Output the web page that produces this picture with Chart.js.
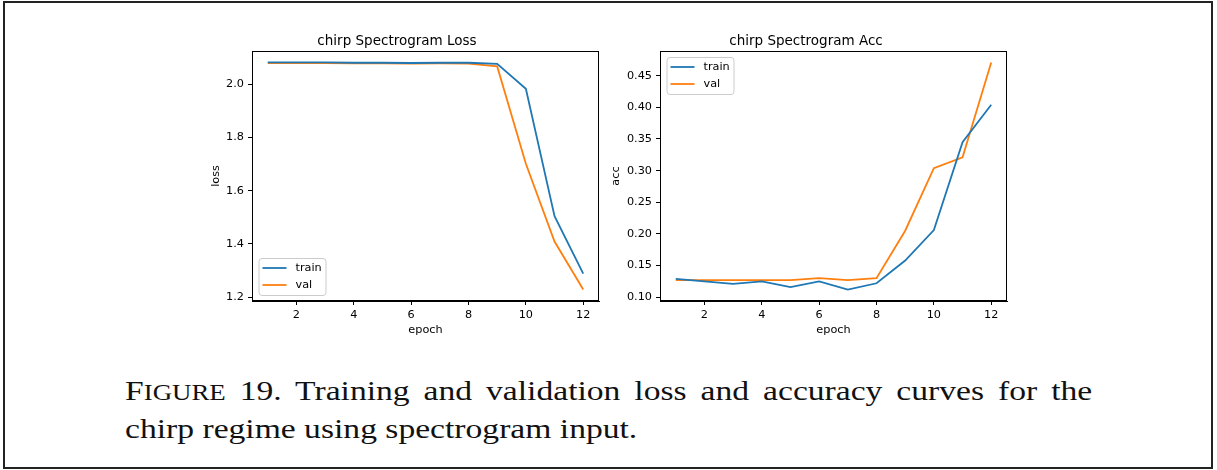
<!DOCTYPE html>
<html>
<head>
<meta charset="utf-8">
<script src="https://cdn.jsdelivr.net/npm/chart.js@4.4.0/dist/chart.umd.min.js"></script>
<style>
  html, body { margin: 0; padding: 0; background: #fff; width: 1217px; height: 470px; overflow: hidden; }
  #frame { position: absolute; left: 3px; top: 1px; width: 1206px; height: 464px; border: 2px solid #222; }
  .plot { position: absolute; top: 22px; width: 420px; height: 325px; }
  #lossBox { left: 195px; }
  #accBox { left: 605px; }
  #caption { position: absolute; left: 125px; top: 373px; width: 806px;
             font-family: "Liberation Serif", serif; font-size: 28px; line-height: 36px; color: #111;
             transform: scaleX(1.2); transform-origin: 0 0; }
  #caption .l1 { display: block; text-align: justify; text-align-last: justify; }
  #caption .l2 { display: block; white-space: nowrap; }
  .sc { font-size: 0.8em; text-transform: uppercase; }
</style>
</head>
<body>
<div id="frame"></div>
<div class="plot" id="lossBox"><canvas id="loss" width="420" height="325"></canvas></div>
<div class="plot" id="accBox"><canvas id="acc" width="420" height="325"></canvas></div>
<div id="caption">
  <span class="l1">F<span class="sc">igure</span> 19. Training and validation loss and accuracy curves for the</span>
  <span class="l2">chirp regime using spectrogram input.</span>
</div>
<script>
// Training history: one value per epoch
const epochs = [1, 2, 3, 4, 5, 6, 7, 8, 9, 10, 11, 12];
const lossTrain = [2.081, 2.081, 2.081, 2.080, 2.080, 2.079, 2.080, 2.080, 2.076, 1.982, 1.504, 1.289];
const lossVal   = [2.079, 2.079, 2.079, 2.078, 2.078, 2.077, 2.078, 2.077, 2.066, 1.701, 1.409, 1.229];
const accTrain  = [0.129, 0.125, 0.121, 0.125, 0.116, 0.125, 0.112, 0.122, 0.158, 0.206, 0.345, 0.404];
const accVal    = [0.127, 0.127, 0.127, 0.127, 0.127, 0.130, 0.127, 0.130, 0.205, 0.304, 0.321, 0.471];

// Tick positions
const epochTicks = [2, 4, 6, 8, 10, 12];
const lossTicks = [1.2, 1.4, 1.6, 1.8, 2.0];
const accTicks = [0.10, 0.15, 0.20, 0.25, 0.30, 0.35, 0.40, 0.45];

const BLUE = '#1f77b4';
const ORANGE = '#ff7f0e';
const FONT = 'DejaVu Sans';
Chart.defaults.font.family = FONT;
Chart.defaults.color = '#000';

function pts(ys) { return ys.map((y, i) => ({ x: epochs[i], y })); }

// Axes frame drawn on all four sides
const framePlugin = {
  id: 'axesFrame',
  afterDatasetsDraw(chart) {
    const { ctx, chartArea: a } = chart;
    ctx.save();
    ctx.strokeStyle = '#000';
    ctx.lineWidth = 1;
    ctx.strokeRect(Math.round(a.left) + 0.5, Math.round(a.top) + 0.5,
                   Math.round(a.right - a.left) - 1, Math.round(a.bottom - a.top) - 1);
    ctx.restore();
  }
};

// Boxed legend placed inside the plot area
function makeLegend(where) {
  return {
    id: 'boxLegend',
    afterDraw(chart) {
      const { ctx, chartArea: a } = chart;
      const w = 67, h = 37;
      const x = a.left + 6.5;
      const y = where === 'lower left' ? a.bottom - 6 - h : a.top + 6;
      ctx.save();
      ctx.beginPath();
      ctx.roundRect(x + 0.5, y + 0.5, w, h, 3);
      ctx.fillStyle = 'rgba(255,255,255,0.8)';
      ctx.fill();
      ctx.strokeStyle = '#cccccc';
      ctx.lineWidth = 1;
      ctx.stroke();
      chart.data.datasets.forEach((ds, i) => {
        const cy = y + 10 + i * 17;
        ctx.beginPath();
        ctx.moveTo(x + 4, cy);
        ctx.lineTo(x + 28, cy);
        ctx.strokeStyle = ds.borderColor;
        ctx.lineWidth = 1.8;
        ctx.stroke();
        ctx.fillStyle = '#000';
        ctx.font = '11.25px "' + FONT + '"';
        ctx.textBaseline = 'middle';
        ctx.textAlign = 'left';
        ctx.fillText(ds.label, x + 37, cy);
      });
      ctx.restore();
    }
  };
}

function makeChart(id, cfg) {
  const tickFont = { family: FONT, size: 11.25 };
  return new Chart(document.getElementById(id), {
    type: 'line',
    data: {
      datasets: [
        { label: 'train', data: pts(cfg.train), borderColor: BLUE, backgroundColor: BLUE,
          borderWidth: 1.8, pointRadius: 0, tension: 0 },
        { label: 'val', data: pts(cfg.val), borderColor: ORANGE, backgroundColor: ORANGE,
          borderWidth: 1.8, pointRadius: 0, tension: 0 }
      ]
    },
    options: {
      responsive: false,
      animation: false,
      events: [],
      layout: { padding: { left: 0, right: cfg.padRight, top: 0, bottom: 0 } },
      plugins: {
        legend: { display: false },
        tooltip: { enabled: false },
        title: { display: true, text: cfg.title, color: '#000',
                 font: { family: FONT, size: 13.5, weight: 'normal' },
                 padding: { top: 11, bottom: 1.8 } }
      },
      scales: {
        x: {
          type: 'linear', min: 0.45, max: 12.55,
          afterBuildTicks: s => { s.ticks = epochTicks.map(v => ({ value: v })); },
          afterFit: s => { s.height = 46; },
          ticks: { font: tickFont, color: '#000', padding: 3, autoSkip: false, maxRotation: 0,
                   callback: v => String(v) },
          grid: { display: true, drawOnChartArea: false, drawTicks: true, tickLength: 4,
                  tickColor: '#000', tickWidth: 1 },
          border: { display: true, color: '#000', width: 1 },
          title: { display: true, text: 'epoch', color: '#000', font: tickFont,
                   padding: { top: 0, bottom: 10 } }
        },
        y: {
          type: 'linear', min: cfg.yMin, max: cfg.yMax,
          afterBuildTicks: s => { s.ticks = cfg.yTicks.map(v => ({ value: v })); },
          afterFit: s => { s.width = cfg.yWidth; },
          ticks: { font: tickFont, color: '#000', padding: 4, autoSkip: false,
                   callback: v => v.toFixed(cfg.digits) },
          grid: { display: true, drawOnChartArea: false, drawTicks: true, tickLength: 4,
                  tickColor: '#000', tickWidth: 1 },
          border: { display: true, color: '#000', width: 1 },
          title: { display: true, text: cfg.yLabel, color: '#000', font: tickFont,
                   padding: { top: cfg.yTitlePad, bottom: 0 } }
        }
      }
    },
    plugins: [framePlugin, makeLegend(cfg.legend)]
  });
}

makeChart('loss', {
  title: 'chirp Spectrogram Loss', yLabel: 'loss',
  train: lossTrain, val: lossVal,
  yMin: 1.186, yMax: 2.124, yTicks: lossTicks, digits: 1,
  yWidth: 57, padRight: 16, yTitlePad: 14, legend: 'lower left'
});

makeChart('acc', {
  title: 'chirp Spectrogram Acc', yLabel: 'acc',
  train: accTrain, val: accVal,
  yMin: 0.094, yMax: 0.489, yTicks: accTicks, digits: 2,
  yWidth: 55, padRight: 18, yTitlePad: 4, legend: 'upper left'
});
</script>
</body>
</html>
